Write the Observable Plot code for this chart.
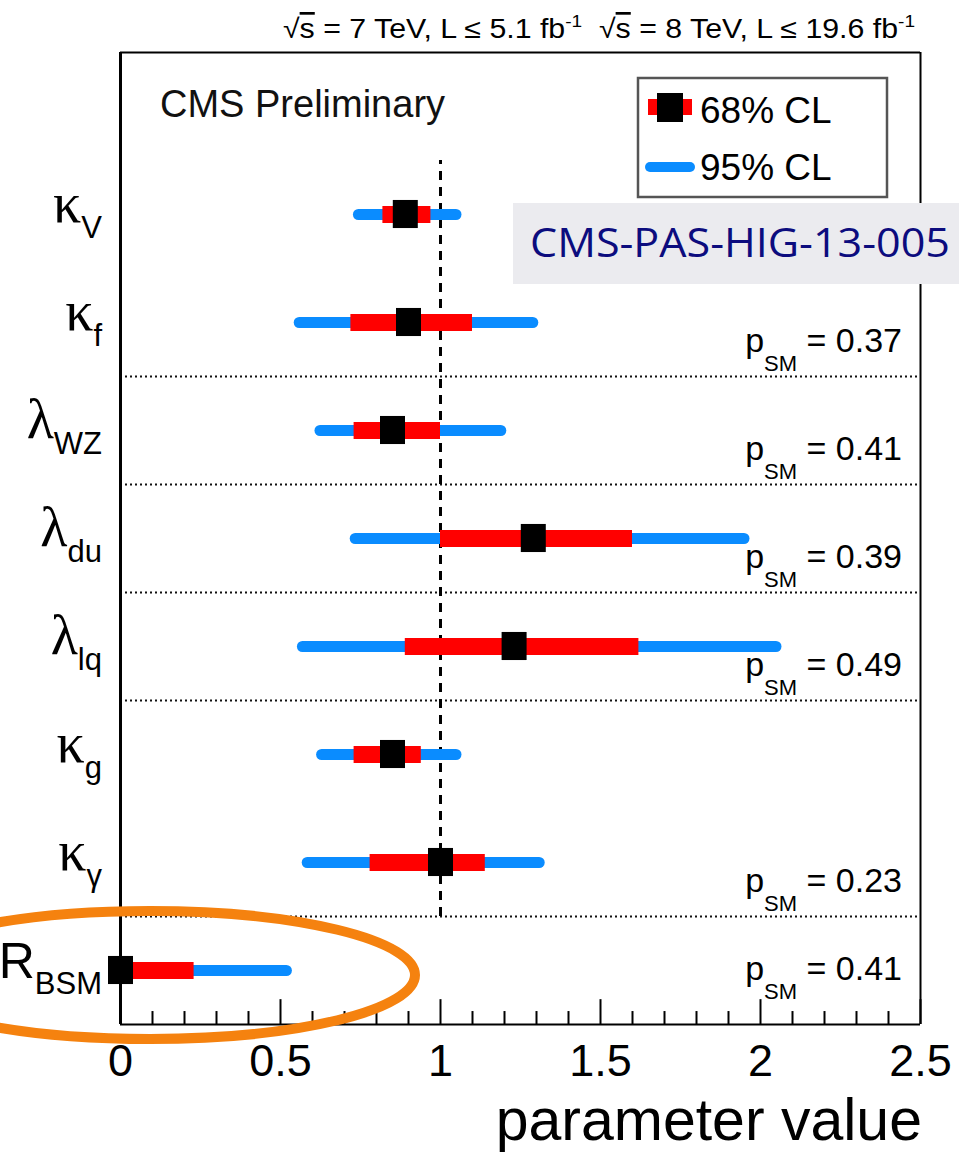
<!DOCTYPE html>
<html>
<head>
<meta charset="utf-8">
<script src="https://cdn.jsdelivr.net/npm/d3@7"></script>
<script src="https://cdn.jsdelivr.net/npm/@observablehq/plot@0.6"></script>
<style>
  html, body { margin: 0; padding: 0; background: #fff; }
  svg { display: block; }
</style>
</head>
<body>
<div id="chart"></div>
<script>
// ---- data ----
const params    = ["κV", "κf", "λWZ", "λdu", "λlq", "κg", "κγ", "RBSM"];
const labelMain = ["κ", "κ", "λ", "λ", "λ", "κ", "κ", "R"];
const labelSub  = ["V", "f", "WZ", "du", "lq", "g", "γ", "BSM"];
const best = [0.89, 0.90, 0.85, 1.29, 1.23, 0.85, 1.00, 0.00];
const lo68 = [0.82, 0.72, 0.73, 1.00, 0.89, 0.73, 0.78, 0.00];
const hi68 = [0.97, 1.10, 1.00, 1.60, 1.62, 0.94, 1.14, 0.23];
const lo95 = [0.745, 0.56, 0.625, 0.735, 0.57, 0.63, 0.585, 0.00];
const hi95 = [1.05, 1.29, 1.19, 1.95, 2.05, 1.05, 1.31, 0.52];
const pRows   = ["κf", "λWZ", "λdu", "λlq", "κγ", "RBSM"];
const pValues = ["0.37", "0.41", "0.39", "0.49", "0.23", "0.41"];
const separators = [6, 5, 4, 3, 1];
const majorTicks = [0, 0.5, 1, 1.5, 2, 2.5];
const minorTicks = [0.1,0.2,0.3,0.4,0.6,0.7,0.8,0.9,1.1,1.2,1.3,1.4,1.6,1.7,1.8,1.9,2.1,2.2,2.3,2.4];
const smValue = 1;

const rows = params.map((p, i) => ({
  param: p, main: labelMain[i], sub: labelSub[i],
  y: params.length - 0.5 - i,
  best: best[i], lo68: lo68[i], hi68: hi68[i], lo95: lo95[i], hi95: hi95[i]
}));

const BLUE = "#0a8cff", RED = "#ff0000";
const FONT = "'Liberation Sans', Arial, Helvetica, sans-serif";
const GREEK = "'Liberation Serif', 'DejaVu Serif', serif";

const plot = Plot.plot({
  width: 959,
  height: 1160,
  marginLeft: 120,
  marginRight: 39,
  marginTop: 52,
  marginBottom: 136,
  x: {domain: [0, 2.5], axis: null},
  y: {domain: [0, 9], axis: null},
  style: {fontFamily: FONT, background: "#fff", color: "#000"},
  marks: [
    Plot.ruleY(separators, {x1: 0, x2: 2.5, stroke: "#111", strokeWidth: 2, strokeDasharray: "2,3"}),
    Plot.ruleX([smValue], {y1: 1, y2: 8, stroke: "#000", strokeWidth: 3, strokeDasharray: "9,7"}),
    Plot.ruleY(rows, {y: "y", x1: "lo95", x2: "hi95", stroke: BLUE, strokeWidth: 11, strokeLinecap: "round"}),
    Plot.ruleY(rows, {y: "y", x1: "lo68", x2: "hi68", stroke: RED, strokeWidth: 17}),
    Plot.ruleX(rows, {x: "best", y1: d => d.y - 0.13, y2: d => d.y + 0.13, stroke: "#000", strokeWidth: 25}),
    Plot.ruleX(minorTicks, {y1: 0, y2: 0.12, stroke: "#000", strokeWidth: 2}),
    Plot.ruleX(majorTicks, {y1: 0, y2: 0.23, stroke: "#000", strokeWidth: 2}),
    Plot.axisX({ticks: majorTicks, tickSize: 0, tickPadding: 20, fontSize: 45, tickFormat: d3.format("")}),
    Plot.ruleY([9], {stroke: "#000", strokeWidth: 2}),
    Plot.ruleY([0], {stroke: "#000", strokeWidth: 2}),
    Plot.ruleX([2.5], {stroke: "#000", strokeWidth: 2}),
    Plot.ruleX([0], {stroke: "#000", strokeWidth: 3})
  ]
});

document.getElementById("chart").appendChild(plot);

const svg = d3.select(plot);
const xs = plot.scale("x"), ys = plot.scale("y");
const X = v => xs.apply(v), Y = v => ys.apply(v);
const g = svg.append("g").attr("font-family", FONT).attr("fill", "#000").attr("text-anchor", "start");

// y labels with subscripts
rows.forEach(r => {
  const greek = r.main !== "R";
  const t = g.append("text").attr("x", X(0) - 18).attr("y", Y(r.y) + 8)
    .attr("text-anchor", "end").attr("font-size", 50);
  t.append("tspan").attr("font-family", greek ? GREEK : FONT)
    .attr("font-size", greek ? 56 : 50).text(r.main);
  t.append("tspan").attr("font-size", 31).attr("dy", 16).text(r.sub);
});

// p_SM labels
pRows.forEach((p, i) => {
  const r = rows.find(d => d.param === p);
  const last = r.param === params[params.length - 1];
  const t = g.append("text").attr("x", X(2.5) - 18).attr("y", Y(r.y) + (last ? 10 : 30))
    .attr("text-anchor", "end").attr("font-size", 34);
  t.append("tspan").text("p");
  t.append("tspan").attr("font-size", 22).attr("dy", 19).text("SM");
  t.append("tspan").attr("dy", -19).text(" = " + pValues[i]);
});

// header
{
  const t = g.append("text").attr("x", 283).attr("y", 38).attr("font-size", 27).attr("text-anchor", "start");
  const part = (s, txt, sup) => {
    s.append("tspan").text("√");
    s.append("tspan").attr("text-decoration", "overline").text("s");
    s.append("tspan").text(txt);
    s.append("tspan").attr("font-size", 17).attr("dy", -11).text("-1");
    s.append("tspan").attr("dy", 11).text(sup);
  };
  part(t, " = 7 TeV, L ≤ 5.1 fb", "  ");
  part(t, " = 8 TeV, L ≤ 19.6 fb", "");
  const len = t.node().getComputedTextLength();
  if (Math.abs(len - 632) > 10) t.attr("textLength", 632).attr("lengthAdjust", "spacingAndGlyphs");
}

// CMS Preliminary
g.append("text").attr("x", 160).attr("y", 117).attr("font-size", 38).attr("fill", "#111")
  .attr("text-anchor", "start").text("CMS Preliminary");

// legend
{
  const L = g.append("g");
  L.append("rect").attr("x", 638).attr("y", 78).attr("width", 249).attr("height", 119)
    .attr("fill", "#fff").attr("stroke", "#555").attr("stroke-width", 2.5);
  L.append("line").attr("x1", 648).attr("x2", 692).attr("y1", 107).attr("y2", 107)
    .attr("stroke", RED).attr("stroke-width", 16);
  L.append("rect").attr("x", 657).attr("y", 93).attr("width", 26).attr("height", 29).attr("fill", "#000");
  L.append("text").attr("x", 700).attr("y", 123).attr("font-size", 37).attr("text-anchor", "start").text("68% CL");
  L.append("line").attr("x1", 650).attr("x2", 690).attr("y1", 167).attr("y2", 167)
    .attr("stroke", BLUE).attr("stroke-width", 10).attr("stroke-linecap", "round");
  L.append("text").attr("x", 700).attr("y", 180).attr("font-size", 37).attr("text-anchor", "start").text("95% CL");
}

// CMS-PAS label box
{
  g.append("rect").attr("x", 513).attr("y", 203).attr("width", 446).attr("height", 81).attr("fill", "#ebebef");
  const t = g.append("text").attr("x", 530).attr("y", 257).attr("font-size", 40).attr("text-anchor", "start")
    .attr("font-family", "'Open Sans', 'Noto Sans', sans-serif").attr("fill", "#0c0c7e")
    .text("CMS-PAS-HIG-13-005");
  t.attr("textLength", 420).attr("lengthAdjust", "spacingAndGlyphs");
}

// x-axis title
g.append("text").attr("x", X(2.5) + 2).attr("y", 1140).attr("text-anchor", "end")
  .attr("font-size", 59).text("parameter value");

// orange highlight ellipse
svg.append("ellipse").attr("cx", 150).attr("cy", 975).attr("rx", 265).attr("ry", 64)
  .attr("fill", "none").attr("stroke", "#f5820f").attr("stroke-width", 10);
</script>
</body>
</html>
